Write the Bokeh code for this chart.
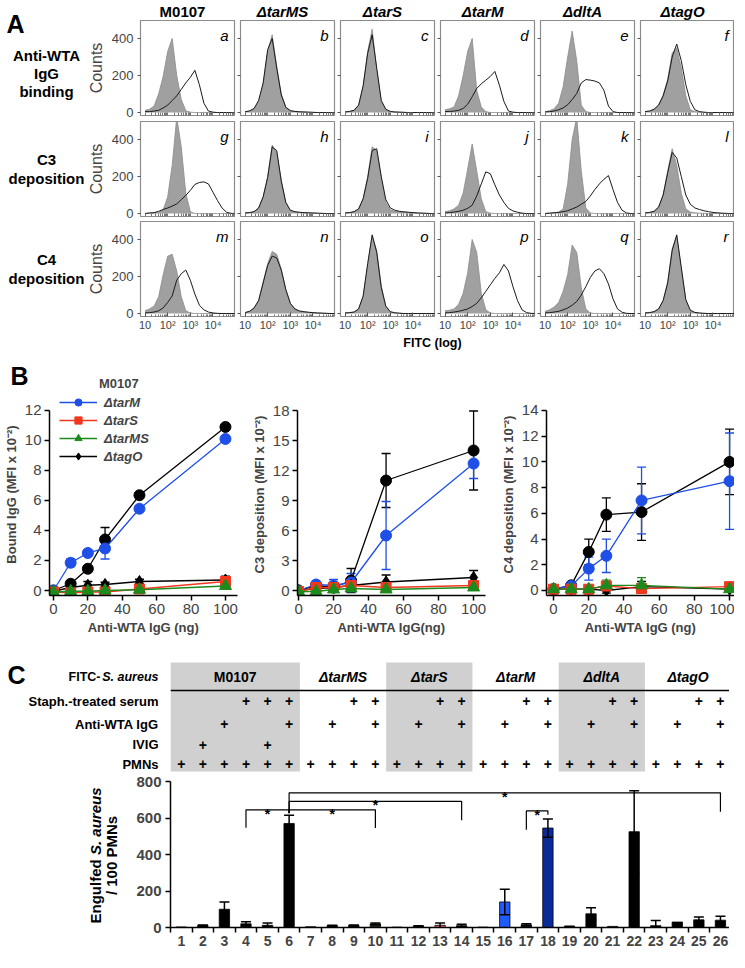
import math
from bokeh.plotting import figure
from bokeh.models import (Range1d, FixedTicker, Legend, LegendItem, Whisker, TeeHead,
                          ColumnDataSource, CustomJSTickFormatter)
from bokeh.layouts import row, column
from bokeh.core.properties import value
from bokeh.embed import file_html
from bokeh.resources import INLINE

FONT = "Liberation Sans"

# ======================= Panel A data (flow cytometry histograms) =======================
FITC_BINS = [10, 15.8, 25.1, 39.8, 63.1, 100, 158, 251, 398, 631, 1000, 1585, 2512, 3981,
             6310, 10000, 15849, 25119, 39811, 63096, 100000]
A_STRAINS = ["M0107", "ΔtarMS", "ΔtarS", "ΔtarM", "ΔdltA", "ΔtagO"]
A_ASSAYS = [["Anti-WTA", "IgG", "binding"], ["C3", "deposition"], ["C4", "deposition"]]
A_LETTERS = [["a", "b", "c", "d", "e", "f"], ["g", "h", "i", "j", "k", "l"], ["m", "n", "o", "p", "q", "r"]]
COUNT_TICKS = [0, 200, 400]
FITC_TICKS = [10, 100, 1000, 10000]
FITC_TICK_LABELS = ["10", "10²", "10³", "10⁴"]

IGG_CONTROL = [
    [12, 18, 35, 100, 195, 330, 400, 200, 70, 10, 2, 0, 0, 0, 0, 0, 0, 0, 0, 0, 0],
    [3, 8, 20, 60, 150, 330, 420, 250, 100, 30, 10, 6, 4, 3, 2, 1, 0, 0, 0, 0, 0],
    [3, 6, 12, 40, 140, 330, 450, 230, 60, 15, 5, 3, 2, 1, 0, 0, 0, 0, 0, 0, 0],
    [15, 20, 30, 90, 200, 330, 400, 120, 30, 5, 0, 0, 0, 0, 0, 0, 0, 0, 0, 0, 0],
    [5, 10, 20, 50, 140, 300, 440, 280, 40, 5, 0, 0, 0, 0, 0, 0, 0, 0, 0, 0, 0],
    [5, 8, 18, 40, 95, 180, 320, 350, 240, 90, 15, 5, 2, 0, 0, 0, 0, 0, 0, 0, 0],
]
IGG_STAINED = [
    [5, 5, 8, 12, 25, 40, 65, 90, 125, 160, 190, 228, 150, 50, 8, 2, 0, 0, 0, 0, 0],
    [4, 9, 22, 65, 160, 340, 400, 240, 95, 28, 10, 6, 4, 3, 2, 1, 0, 0, 0, 0, 0],
    [3, 6, 12, 40, 145, 320, 420, 240, 65, 18, 6, 3, 2, 1, 0, 0, 0, 0, 0, 0, 0],
    [5, 6, 8, 12, 22, 45, 85, 130, 155, 175, 195, 222, 148, 60, 8, 2, 0, 0, 0, 0, 0],
    [3, 5, 8, 15, 25, 42, 70, 103, 160, 178, 175, 170, 160, 120, 35, 5, 0, 0, 0, 0, 0],
    [5, 8, 18, 40, 90, 170, 300, 370, 280, 150, 60, 15, 5, 2, 0, 0, 0, 0, 0, 0, 0],
]
C3_CONTROL = [
    [0, 2, 3, 6, 20, 90, 260, 520, 360, 110, 10, 0, 0, 0, 0, 0, 0, 0, 0, 0, 0],
    [3, 5, 10, 30, 90, 200, 370, 330, 180, 60, 15, 8, 6, 4, 3, 2, 1, 0, 0, 0, 0],
    [3, 5, 10, 25, 80, 200, 360, 340, 190, 60, 20, 12, 10, 8, 6, 4, 3, 2, 1, 0, 0],
    [10, 15, 25, 45, 110, 240, 375, 230, 80, 10, 2, 0, 0, 0, 0, 0, 0, 0, 0, 0, 0],
    [0, 2, 4, 8, 25, 160, 400, 520, 230, 30, 3, 0, 0, 0, 0, 0, 0, 0, 0, 0, 0],
    [3, 6, 12, 35, 100, 230, 350, 260, 110, 25, 8, 4, 2, 1, 0, 0, 0, 0, 0, 0, 0],
]
C3_STAINED = [
    [0, 3, 5, 12, 22, 30, 40, 52, 75, 98, 125, 157, 168, 171, 160, 115, 70, 30, 7, 1, 0],
    [3, 5, 10, 30, 90, 195, 360, 340, 175, 60, 18, 10, 7, 5, 4, 3, 2, 1, 0, 0, 0],
    [3, 5, 10, 25, 80, 190, 340, 350, 200, 75, 30, 18, 12, 9, 7, 5, 3, 2, 1, 0, 0],
    [3, 5, 8, 12, 18, 28, 45, 95, 160, 225, 215, 155, 100, 60, 28, 14, 7, 2, 0, 0, 0],
    [0, 2, 4, 6, 10, 15, 25, 35, 50, 65, 95, 130, 160, 185, 205, 130, 60, 18, 3, 0, 0],
    [3, 6, 12, 35, 100, 220, 330, 300, 200, 100, 50, 30, 22, 15, 10, 6, 4, 2, 1, 0, 0],
]
C4_CONTROL = [
    [15, 25, 40, 90, 210, 310, 320, 230, 90, 15, 3, 0, 0, 0, 0, 0, 0, 0, 0, 0, 0],
    [5, 12, 30, 70, 170, 270, 335, 320, 240, 130, 55, 25, 12, 8, 6, 4, 3, 2, 1, 0, 0],
    [3, 5, 8, 25, 90, 260, 420, 340, 150, 40, 8, 3, 1, 0, 0, 0, 0, 0, 0, 0, 0],
    [15, 18, 25, 50, 110, 220, 400, 330, 110, 20, 3, 0, 0, 0, 0, 0, 0, 0, 0, 0, 0],
    [12, 20, 35, 60, 120, 210, 370, 330, 140, 25, 3, 0, 0, 0, 0, 0, 0, 0, 0, 0, 0],
    [3, 5, 10, 25, 70, 170, 350, 420, 240, 70, 15, 5, 2, 1, 0, 0, 0, 0, 0, 0, 0],
]
C4_STAINED = [
    [3, 5, 8, 15, 30, 60, 95, 180, 215, 235, 180, 105, 45, 20, 8, 3, 1, 0, 0, 0, 0],
    [5, 12, 30, 70, 165, 260, 310, 300, 235, 130, 55, 25, 14, 10, 7, 5, 3, 2, 1, 0, 0],
    [3, 5, 8, 25, 95, 270, 425, 330, 140, 40, 10, 4, 2, 0, 0, 0, 0, 0, 0, 0, 0],
    [3, 5, 8, 12, 18, 25, 38, 55, 85, 120, 155, 190, 220, 265, 230, 145, 70, 20, 5, 1, 0],
    [3, 5, 8, 12, 20, 30, 45, 65, 100, 145, 195, 230, 242, 215, 160, 80, 25, 7, 1, 0, 0],
    [3, 5, 10, 25, 70, 165, 340, 425, 250, 75, 18, 6, 3, 1, 0, 0, 0, 0, 0, 0, 0],
]

# ======================= Panel B data (dose response) =======================
DOSE_NG = [0, 10, 20, 30, 50, 100]
B_STRAINS = ["M0107", "ΔtarM", "ΔtarS", "ΔtarMS", "ΔtagO"]
BOUND_IGG = {"M0107": [0.0, 0.45, 1.45, 3.4, 6.35, 10.9],
             "ΔtarM": [0.0, 1.85, 2.5, 2.8, 5.45, 10.1],
             "ΔtarS": [-0.1, -0.15, -0.1, -0.1, 0.1, 0.6],
             "ΔtarMS": [-0.1, -0.05, -0.05, 0.0, 0.05, 0.3],
             "ΔtagO": [-0.05, 0.2, 0.35, 0.4, 0.6, 0.7]}
BOUND_IGG_SD = {"M0107": [0, 0.1, 0.1, 0.8, 0.15, 0.1],
                "ΔtarM": [0, 0.25, 0.2, 0.7, 0.15, 0.15],
                "ΔtarS": [0, 0, 0, 0, 0.05, 0.2],
                "ΔtarMS": [0, 0, 0, 0, 0, 0],
                "ΔtagO": [0, 0.05, 0.25, 0.15, 0.15, 0.25]}
C3_DEP = {"M0107": [0.0, 0.5, 0.3, 1.0, 11.0, 14.0],
          "ΔtarM": [0.0, 0.6, 0.5, 0.8, 5.5, 12.7],
          "ΔtarS": [-0.1, 0.3, 0.3, 0.5, 0.3, 0.5],
          "ΔtarMS": [-0.1, -0.1, 0.1, 0.2, 0.1, 0.3],
          "ΔtagO": [0.0, 0.2, 0.3, 0.5, 0.85, 1.3]}
C3_DEP_SD = {"M0107": [0, 0.2, 0.3, 1.2, 2.7, 3.95],
             "ΔtarM": [0, 0.3, 0.6, 0.9, 3.4, 1.5],
             "ΔtarS": [0, 0.1, 0.1, 0.1, 0.1, 0.1],
             "ΔtarMS": [0, 0, 0, 0, 0, 0],
             "ΔtagO": [0, 0.1, 0.1, 0.3, 0.7, 0.7]}
C4_DEP = {"M0107": [0.1, 0.4, 3.0, 5.9, 6.1, 10.0],
          "ΔtarM": [0.1, 0.35, 1.7, 2.7, 7.0, 8.5],
          "ΔtarS": [0.1, 0.1, 0.1, 0.35, 0.15, 0.3],
          "ΔtarMS": [0.1, 0.1, 0.1, 0.4, 0.4, 0.1],
          "ΔtagO": [0.1, 0.1, 0.1, 0.0, 0.3, 0.1]}
C4_DEP_SD = {"M0107": [0, 0.1, 1.0, 1.3, 2.2, 2.55],
             "ΔtarM": [0, 0.1, 0.9, 1.3, 2.6, 3.75],
             "ΔtarS": [0, 0, 0, 0, 0, 0],
             "ΔtarMS": [0, 0, 0, 0.4, 0.6, 0],
             "ΔtagO": [0, 0, 0, 0.2, 0.4, 0]}

# ======================= Panel C data (phagocytosis) =======================
LANES = [1, 2, 3, 4, 5, 6, 7, 8, 9, 10, 11, 12, 13, 14, 15, 16, 17, 18, 19, 20, 21, 22, 23, 24, 25, 26]
ENGULFED = [3, 12, 100, 20, 12, 570, 4, 10, 12, 20, 2, 8, 12, 10, 2, 140, 15, 545, 5, 75, 6, 525, 10, 30, 42, 40]
ENGULFED_SD = [0, 2, 40, 12, 12, 45, 0, 2, 2, 5, 0, 2, 13, 8, 0, 70, 6, 50, 2, 33, 0, 225, 28, 0, 15, 22]
C_GROUPS = ["M0107", "ΔtarMS", "ΔtarS", "ΔtarM", "ΔdltA", "ΔtagO"]
C_GROUP_FIRST = [1, 7, 11, 15, 19, 23]
C_GROUP_LAST = [6, 10, 14, 18, 22, 26]
C_SHADED = [True, False, True, False, True, False]
C_ROWS = ["Staph.-treated serum", "Anti-WTA IgG", "IVIG", "PMNs"]
SERUM_LANES = [4, 5, 6, 9, 10, 13, 14, 17, 18, 21, 22, 25, 26]
ANTI_WTA_LANES = [3, 6, 8, 10, 12, 14, 16, 18, 20, 22, 24, 26]
IVIG_LANES = [2, 5]
PMN_LANES = LANES
# significance brackets: (from lane, to lane, level, left end, right end)
SIG_BRACKETS = [(4, 6, 645, 547, 625), (6, 10, 645, 628, 545), (6, 14, 691, 628, 587),
                (6, 26, 738, 628, 634), (17, 18, 639, 535, 618)]
ENGULF_TICKS = [0, 200, 400, 600, 800]

# ======================= styles =======================
BAR_COLORS = ["#000000"] * 26
BAR_COLORS[9] = "#1b2e1b"
BAR_COLORS[12] = "#e06060"
BAR_COLORS[15] = "#1f5cff"
BAR_COLORS[16] = "#18243c"
BAR_COLORS[17] = "#0b2a9a"
B_STYLE = {"M0107": ("#000000", "circle", 11), "ΔtarM": ("#1f4fe6", "circle", 11),
           "ΔtarS": ("#f2371d", "square", 10), "ΔtarMS": ("#1c8a1c", "triangle", 12),
           "ΔtagO": ("#000000", "diamond", 12)}
B_DRAW_ORDER = ["M0107", "ΔtarM", "ΔtagO", "ΔtarS", "ΔtarMS"]

COMMON = dict(toolbar_location=None, output_backend="svg", title=None, frame_align=False)


def blank(w, h, xr=None, yr=None):
    p = figure(width=w, height=h, x_range=xr or Range1d(0, w), y_range=yr or Range1d(h, 0),
               min_border=0, min_border_left=0, min_border_right=0, min_border_top=0, min_border_bottom=0,
               x_axis_location=None, y_axis_location=None, **COMMON)
    p.grid.visible = False
    p.outline_line_color = None
    return p


def txt(p, x, y, t, size, style="bold", align="center", baseline="middle", angle=0.0):
    p.text(x=[x], y=[y], text=[t], text_font=value(FONT), text_font_size=size,
           text_font_style=style, text_align=align, text_baseline=baseline, angle=angle,
           text_color="#000000")


# ======================= Panel A =======================
rowlab = blank(84, 350)
txt(rowlab, 6, 23, "A", "25px", align="left", baseline="alphabetic")
row_centers = [72.5, 168.5, 268.5]
for r, lines in enumerate(A_ASSAYS):
    n = len(lines)
    step = 18 if n == 3 else 19
    for i, ln in enumerate(lines):
        txt(rowlab, 46, row_centers[r] + (i - (n - 1) / 2) * step, ln, "15px")

header = blank(645, 20)
for c, s in enumerate(A_STRAINS):
    txt(header, 98 + 100 * c, 10.5, s, "15px", style="bold" if c == 0 else "bold italic")

footer = blank(645, 16)
txt(footer, 348, 8, "FITC (log)", "12.5px")

MINOR = [m * 10 ** k for k in range(1, 5) for m in range(2, 10)]
fitc_fmt = CustomJSTickFormatter(args=dict(fticks=FITC_TICKS, flabels=FITC_TICK_LABELS), code="""
const k = Math.round(Math.log10(tick));
if (Math.abs(Math.log10(tick) - k) > 1e-6) return "";
const i = fticks.indexOf(Math.pow(10, k));
return i >= 0 ? flabels[i] : "";
""")


def hist_panel(r, c, ctrl, stained, letter):
    left = 51 if c == 0 else 3
    right = 0 if c == 5 else 3
    top = (0, 1, 1)[r]
    bottom = (5, 4, 18)[r]
    p = figure(frame_width=94, frame_height=95, x_axis_type="log",
               x_range=Range1d(10 ** 0.8, 10 ** 4.95), y_range=Range1d(-16, 497),
               min_border_left=left, min_border_right=right,
               min_border_top=top, min_border_bottom=bottom, **COMMON)
    p.grid.visible = False
    p.outline_line_color = "#8c8c8c"
    p.outline_line_width = 1.2
    src = ColumnDataSource(dict(x=FITC_BINS, ctrl=ctrl, stained=stained))
    p.varea(x="x", y1=0, y2="ctrl", source=src, fill_color="#a0a0a0")
    p.line("x", "ctrl", source=src, line_color="#8a8a8a", line_width=0.8)
    p.line("x", "stained", source=src, line_color="#1a1a1a", line_width=1)
    p.text(x=[10 ** 4.69], y=[416], text=[letter], text_font=value(FONT), text_font_size="15px",
           text_font_style="italic", text_align="right", text_baseline="alphabetic")
    xa = p.xaxis[0]
    xa.axis_line_color = None
    xa.major_tick_out = 0
    xa.minor_tick_out = 0
    xa.major_tick_line_color = "#555555"
    xa.minor_tick_line_color = "#777777"
    if r == 2:
        xa.ticker = FixedTicker(ticks=FITC_TICKS, minor_ticks=MINOR)
        xa.major_tick_in = 4
        xa.minor_tick_in = 2
        xa.formatter = fitc_fmt
        xa.major_label_text_font = FONT
        xa.major_label_text_font_size = "11px"
        xa.major_label_standoff = 2
    else:
        xa.ticker = FixedTicker(ticks=[], minor_ticks=FITC_TICKS + MINOR)
        xa.minor_tick_in = 3
    ya = p.yaxis[0]
    ya.axis_line_color = None
    ya.major_tick_in = 0
    ya.minor_tick_in = 0
    ya.major_tick_line_color = "#555555"
    ya.minor_tick_line_color = "#555555"
    if c == 0:
        ya.ticker = FixedTicker(ticks=COUNT_TICKS)
        ya.major_tick_out = 3
        ya.major_label_text_font = FONT
        ya.major_label_text_font_size = "13px"
        ya.major_label_standoff = 4
        ya.axis_label = "Counts"
        ya.axis_label_text_font = FONT
        ya.axis_label_text_font_size = "16px"
        ya.axis_label_text_font_style = "normal"
        ya.axis_label_standoff = 4
    else:
        ya.ticker = FixedTicker(ticks=[], minor_ticks=COUNT_TICKS)
        ya.major_tick_out = 0
        ya.minor_tick_out = 3
    return p


hist_rows = []
for r, (cs, ss) in enumerate([(IGG_CONTROL, IGG_STAINED), (C3_CONTROL, C3_STAINED), (C4_CONTROL, C4_STAINED)]):
    hist_rows.append(row(*[hist_panel(r, c, cs[c], ss[c], A_LETTERS[r][c]) for c in range(6)]))

block_a = row(rowlab, column(header, *hist_rows, footer))


# ======================= Panel B =======================
def dose_panel(left, right, xr, yr, top_tick, y_ticks, means, sds, ylabel, xlabel):
    p = figure(frame_width=188, frame_height=202,
               x_range=Range1d(*xr), y_range=Range1d(*yr),
               min_border_left=left, min_border_right=right, min_border_top=0, min_border_bottom=46,
               **COMMON)
    p.grid.visible = False
    p.outline_line_color = None
    rends = {}
    for s in B_DRAW_ORDER:
        color, marker, size = B_STYLE[s]
        src = ColumnDataSource(dict(x=DOSE_NG, y=means[s]))
        ex = [x for x, e in zip(DOSE_NG, sds[s]) if e > 0]
        if ex:
            ey = [(m, e) for m, e in zip(means[s], sds[s]) if e > 0]
            wsrc = ColumnDataSource(dict(x=ex, upper=[m + e for m, e in ey], lower=[m - e for m, e in ey]))
            p.add_layout(Whisker(source=wsrc, base="x", upper="upper", lower="lower",
                                 line_color=color, line_width=1.3, level="underlay",
                                 upper_head=TeeHead(size=9, line_color=color, line_width=1.3),
                                 lower_head=TeeHead(size=9, line_color=color, line_width=1.3)))
        ln = p.line("x", "y", source=src, line_color=color, line_width=1.3)
        sc = p.scatter("x", "y", source=src, marker=marker, size=size, fill_color=color, line_color=color)
        rends[s] = [ln, sc]
    p.xaxis.ticker = FixedTicker(ticks=[0, 20, 40, 60, 80, 100])
    p.yaxis.ticker = FixedTicker(ticks=y_ticks)
    p.yaxis.bounds = (yr[0], top_tick)
    for ax in p.axis:
        ax.axis_line_width = 1.5
        ax.major_tick_line_width = 1.5
        ax.major_tick_out = 5
        ax.major_tick_in = 0
        ax.minor_tick_line_color = None
        ax.major_label_text_font = FONT
        ax.major_label_text_font_size = "15px"
        ax.major_label_standoff = 3
        ax.axis_label_text_font = FONT
        ax.axis_label_text_font_size = "13px"
        ax.axis_label_text_font_style = "bold"
        ax.axis_label_standoff = 3
    p.yaxis.axis_label = ylabel
    p.xaxis.axis_label = xlabel
    return p, rends


b1, r1 = dose_panel(44, 4, (-2.3, 107), (-0.333, 13.13), 12, [0, 2, 4, 6, 8, 10, 12],
                    BOUND_IGG, BOUND_IGG_SD, "Bound IgG (MFI x 10⁻²)", "Anti-WTA IgG (ng)")
b2, _ = dose_panel(56, 4, (-0.6, 106.8), (-0.5, 19.7), 18, [0, 3, 6, 9, 12, 15, 18],
                   C3_DEP, C3_DEP_SD, "C3 deposition (MFI x 10⁻²)", "Anti-WTA IgG(ng)")
b3, _ = dose_panel(57, 0, (-4, 102.8), (-0.389, 15.32), 14, [0, 2, 4, 6, 8, 10, 12, 14],
                   C4_DEP, C4_DEP_SD, "C4 deposition (MFI x 10⁻²)", "Anti-WTA IgG (ng)")

leg2 = Legend(items=[LegendItem(label=n, renderers=r1[n]) for n in ["ΔtarM", "ΔtarS", "ΔtarMS", "ΔtagO"]],
              location=(10, 130), glyph_width=38, glyph_height=18, label_height=18, spacing=0,
              padding=0, margin=0, label_standoff=7, border_line_color=None, background_fill_alpha=0,
              label_text_font=FONT, label_text_font_size="13px", label_text_font_style="bold italic")
b1.add_layout(leg2, "center")

btop = blank(729, 43)
txt(btop, 10, 25, "B", "25px", align="left")
c0, m0, s0 = B_STYLE["M0107"]
key_line = btop.line(x=[], y=[], line_color=c0, line_width=1.3)
key_dot = btop.scatter(x=[], y=[], marker=m0, size=s0, fill_color=c0, line_color=c0)
leg1 = Legend(items=[LegendItem(label="M0107", renderers=[key_line, key_dot])],
              location=(54, 1), glyph_width=38, glyph_height=18, label_height=18, spacing=0,
              padding=0, margin=0, label_standoff=7, border_line_color=None, background_fill_alpha=0,
              label_text_font=FONT, label_text_font_size="13px", label_text_font_style="bold")
btop.add_layout(leg1, "center")

block_b = column(btop, row(b1, b2, b3))

# ======================= Panel C =======================
XR = (0.5, 26.42)
TAB_YR = (0.586, 6.65)
tab = figure(width=559, height=132, x_range=Range1d(*XR), y_range=Range1d(*TAB_YR),
             min_border=0, min_border_left=0, min_border_right=0, min_border_top=0, min_border_bottom=0,
             x_axis_location=None, y_axis_location=None, **COMMON)
tab.grid.visible = False
tab.outline_line_color = None
sh_l = [f - 0.5 for f, s in zip(C_GROUP_FIRST, C_SHADED) if s]
sh_r = [l + 0.5 for l, s in zip(C_GROUP_LAST, C_SHADED) if s]
tab.quad(left=sh_l, right=sh_r, top=5.69, bottom=0.68, fill_color="#d0d0d0", line_color=None)
tab.segment(x0=[C_GROUP_FIRST[0] - 0.5], x1=[C_GROUP_LAST[-1] + 0.5], y0=[4.4], y1=[4.4],
            line_color="#000000", line_width=1.3)
mids = [(f + l) / 2 for f, l in zip(C_GROUP_FIRST, C_GROUP_LAST)]
tab.text(x=mids[:1], y=[5.0], text=C_GROUPS[:1], text_font=value(FONT), text_font_size="14px",
         text_font_style="bold", text_align="center", text_baseline="middle")
tab.text(x=mids[1:], y=[5.0] * 5, text=C_GROUPS[1:], text_font=value(FONT), text_font_size="14px",
         text_font_style="bold italic", text_align="center", text_baseline="middle")
ROW_Y = [3.9, 2.85, 1.9, 1.0]
for lanes, yy in zip([SERUM_LANES, ANTI_WTA_LANES, IVIG_LANES, PMN_LANES], ROW_Y):
    tab.text(x=lanes, y=[yy] * len(lanes), text=["+"] * len(lanes), text_font=value(FONT),
             text_font_size="14px", text_font_style="bold", text_align="center", text_baseline="middle")

tab_left = blank(170, 132, xr=Range1d(0, 170), yr=Range1d(*TAB_YR))
for name, yy in zip(C_ROWS, ROW_Y):
    txt(tab_left, 158, yy, name, "13px", align="right")
txt(tab_left, 158, 5.0, "S. aureus", "12.5px", style="bold italic", align="right")
txt(tab_left, 100, 5.0, "FITC-", "12.5px", align="right")
txt(tab_left, 7, 5.1, "C", "25px", align="left")

bar = figure(frame_width=559, frame_height=146, x_range=Range1d(*XR), y_range=Range1d(0, 800),
             min_border_left=48, min_border_right=0, min_border_top=8, min_border_bottom=25, **COMMON)
bar.grid.visible = False
bar.outline_line_color = None
bsrc = ColumnDataSource(dict(x=LANES, top=ENGULFED, color=BAR_COLORS))
bar.vbar(x="x", top="top", width=0.48, fill_color="color", line_color="#000000", line_width=0.8, source=bsrc)
wl = [(x, m, e) for x, m, e in zip(LANES, ENGULFED, ENGULFED_SD) if e > 0]
wsrc = ColumnDataSource(dict(x=[a for a, _, _ in wl], upper=[m + e for _, m, e in wl],
                             lower=[m - e for _, m, e in wl]))
bar.add_layout(Whisker(source=wsrc, base="x", upper="upper", lower="lower", line_color="#000000",
                       line_width=1.5, level="overlay",
                       upper_head=TeeHead(size=10, line_color="#000000", line_width=1.5),
                       lower_head=TeeHead(size=10, line_color="#000000", line_width=1.5)))
bar.multi_line(xs=[[a, a, b, b] for a, b, _, _, _ in SIG_BRACKETS],
               ys=[[ld, lv, lv, rd] for _, _, lv, ld, rd in SIG_BRACKETS],
               line_color="#000000", line_width=1.2)
bar.text(x=[(a + b) / 2 for a, b, _, _, _ in SIG_BRACKETS], y=[lv for _, _, lv, _, _ in SIG_BRACKETS],
         text=["*"] * len(SIG_BRACKETS), text_font=value(FONT), text_font_size="14px",
         text_font_style="bold", text_align="center", text_baseline="alphabetic", y_offset=4)
bar.xaxis.ticker = FixedTicker(ticks=LANES, minor_ticks=[l + 0.5 for l in [0] + LANES])
bar.yaxis.ticker = FixedTicker(ticks=ENGULF_TICKS)
for ax in bar.axis:
    ax.axis_line_width = 1.5
    ax.major_label_text_font = FONT
    ax.major_label_text_font_style = "bold"
    ax.major_tick_in = 0
    ax.major_tick_line_width = 1.5
    ax.minor_tick_line_width = 1.5
bar.xaxis.major_tick_out = 0
bar.xaxis.minor_tick_out = 5
bar.xaxis.minor_tick_in = 0
bar.xaxis.major_label_text_font_size = "14px"
bar.xaxis.major_label_standoff = 3
bar.yaxis.major_tick_out = 5
bar.yaxis.minor_tick_line_color = None
bar.yaxis.major_label_text_font_size = "15px"
bar.yaxis.major_label_standoff = 4

bar_left = blank(122, 179)
txt(bar_left, 95, 150, "Engulfed", "15px", align="left", angle=math.pi / 2)
txt(bar_left, 95, 14, "S. aureus", "15px", style="bold italic", align="right", angle=math.pi / 2)
txt(bar_left, 111, 82, "/ 100 PMNs", "15px", angle=math.pi / 2)

block_c = column(row(tab_left, tab), row(bar_left, bar))

page = column(block_a, block_b, block_c)
open("out.html", "w").write(file_html(page, INLINE))
